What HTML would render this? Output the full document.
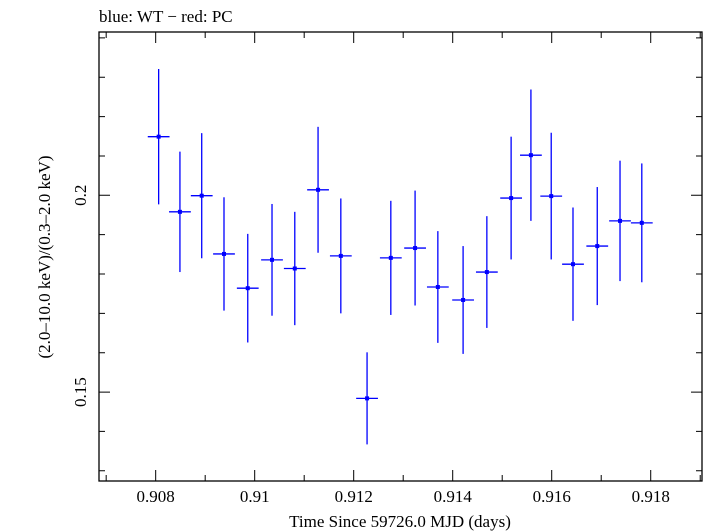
<!DOCTYPE html>
<html><head><meta charset="utf-8"><style>
body{margin:0;background:#fff}
svg{display:block;font-family:"Liberation Serif",serif}
</style></head><body>
<svg id="chart" width="705" height="532">
<text x="99" y="22" font-size="17">blue: WT − red: PC</text>
<g id="axes"></g><g id="marks"></g>
<text x="400" y="527" font-size="17" text-anchor="middle">Time Since 59726.0 MJD (days)</text>
<text transform="translate(50,257) rotate(-90)" font-size="17" text-anchor="middle">(2.0–10.0 keV)/(0.3–2.0 keV)</text>
</svg>
<script>
const times=[0.90806,0.90849,0.90893,0.90938,0.90986,0.91035,0.91081,0.91128,0.91174,0.91227,0.91275,0.91324,0.91370,0.91421,0.91469,0.91518,0.91558,0.91599,0.91643,0.91692,0.91738,0.91782];
const ratios=[0.2149,0.1958,0.1999,0.1851,0.1764,0.1836,0.1814,0.2014,0.1846,0.1484,0.1841,0.1866,0.1767,0.1734,0.1805,0.1993,0.2102,0.1998,0.1825,0.1871,0.1935,0.1930];
const errors=[0.0172,0.0153,0.0159,0.0144,0.0138,0.0142,0.0144,0.0160,0.0146,0.0117,0.0145,0.0146,0.0142,0.0137,0.0142,0.0156,0.0167,0.0161,0.0144,0.0150,0.0153,0.0151];
const timeHalfWidth=[0.00022];
const xTickLabels=["0.908","0.91","0.912","0.914","0.916","0.918"];
const yTickLabels=["0.15","0.2"];
const L=99,R=702,T=32,B=481;
const x0=0.906855,x1=0.919036,y0=0.1274,y1=0.2415;
const X=v=>L+(v-x0)/(x1-x0)*(R-L);
const Y=v=>B-(v-y0)/(y1-y0)*(B-T);
const NS="http://www.w3.org/2000/svg";
const axes=document.getElementById('axes'),marks=document.getElementById('marks');
function mk(tag,attrs,parent){const e=document.createElementNS(NS,tag);for(const k in attrs)e.setAttribute(k,attrs[k]);parent.appendChild(e);return e;}
const fr=mk('rect',{x:L,y:T,width:R-L,height:B-T,fill:'none',stroke:'#000','stroke-width':1.3},axes);


for(let i=0;i<=12;i++){const v=0.907+i*0.001;if(v>x1)break;const px=X(v);const major=i%2===1;const len=major?11:6;
 const t=mk('path',{d:`M${px},${B}v${-len}M${px},${T}v${len}`,stroke:'#000','stroke-width':1},axes);
 
 }
xTickLabels.forEach(s=>{const tx=mk('text',{x:X(parseFloat(s)),y:502,'font-size':17,'text-anchor':'middle'},axes);tx.textContent=s;
 
 });
for(let i=13;i<=24;i++){const v=i/100;const py=Y(v);const major=(i===15||i===20);const len=major?11:6;
 const t=mk('path',{d:`M${L},${py}h${len}M${R},${py}h${-len}`,stroke:'#000','stroke-width':1},axes);
 
 }
yTickLabels.forEach(s=>{const py=Y(parseFloat(s));const tx=mk('text',{transform:`translate(86,${py}) rotate(-90)`,'font-size':17,'text-anchor':'middle'},axes);tx.textContent=s;
 
 });
times.forEach((t,i)=>{const g=mk('g',{},marks);
 
 
 const v=ratios[i],e=errors[i],h=timeHalfWidth[0];
 mk('line',{x1:X(t),x2:X(t),y1:Y(v+e),y2:Y(v-e),stroke:'#0000ff','stroke-width':1.3},g);
 mk('line',{x1:X(t-h),x2:X(t+h),y1:Y(v),y2:Y(v),stroke:'#0000ff','stroke-width':1.3},g);
 mk('rect',{x:X(t)-2,y:Y(v)-2,width:4,height:4,fill:'#0000ff'},g);});
</script>
</body></html>
